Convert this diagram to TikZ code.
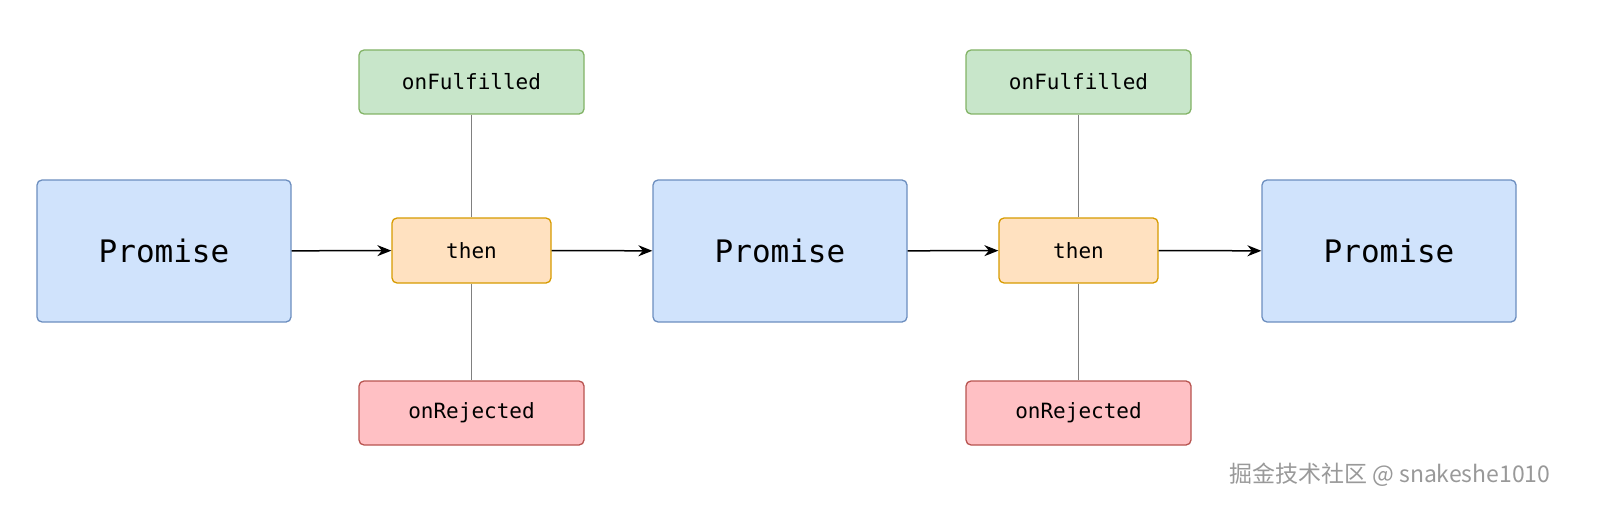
\documentclass[tikz,border=0pt]{standalone}
\usepackage{fontspec}
\setmonofont{DejaVu Sans Mono}
\newfontfamily\cjk{Noto Sans CJK SC}
\usetikzlibrary{arrows.meta}
\definecolor{bfill}{HTML}{D0E3FC}\definecolor{bdraw}{HTML}{6C8EBF}
\definecolor{ofill}{HTML}{FFE1C0}\definecolor{odraw}{HTML}{D79B00}
\definecolor{gfill}{HTML}{C8E6CA}\definecolor{gdraw}{HTML}{82B366}
\definecolor{rfill}{HTML}{FFC0C4}\definecolor{rdraw}{HTML}{B85450}
\tikzset{x=1pt,y=-1pt,
 box/.style={draw,line width=1.3pt,rounded corners=5pt,inner sep=0pt,font=\ttfamily},
 prom/.style={box,fill=bfill,draw=bdraw,minimum width=254pt,minimum height=142pt,font=\ttfamily\fontsize{31}{34}\selectfont},
 thenbox/.style={box,fill=ofill,draw=odraw,minimum width=159pt,minimum height=65pt,font=\ttfamily\fontsize{21}{24}\selectfont},
 ful/.style={box,fill=gfill,draw=gdraw,minimum width=225pt,minimum height=64pt,font=\ttfamily\fontsize{21}{24}\selectfont},
 rej/.style={box,fill=rfill,draw=rdraw,minimum width=225pt,minimum height=64pt,font=\ttfamily\fontsize{21}{24}\selectfont},
 arr/.style={-{Stealth[length=14pt,width=11pt]},line width=1.5pt},
 vline/.style={draw=gray,line width=1.3pt}}
\begin{document}
\begin{tikzpicture}
\useasboundingbox (0,0) rectangle (1602,516);
\node[prom] (p1) at (164,251) {Promise};
\node[prom] (p2) at (780,251) {Promise};
\node[prom] (p3) at (1389,251) {Promise};
\node[thenbox] (t1) at (471.5,250.5) {then};
\node[thenbox] (t2) at (1078.5,250.5) {then};
\node[ful] (f1) at (471.5,82) {onFulfilled};
\node[ful] (f2) at (1078.5,82) {onFulfilled};
\node[rej] (r1) at (471.5,413) {onRejected};
\node[rej] (r2) at (1078.5,413) {onRejected};
\draw[vline] (f1) -- (t1) -- (r1);
\draw[vline] (f2) -- (t2) -- (r2);
\draw[arr] (p1) -- (t1);
\draw[arr] (t1) -- (p2);
\draw[arr] (p2) -- (t2);
\draw[arr] (t2) -- (p3);
\node[anchor=east,text=gray!80,font=\fontsize{23}{26}\selectfont] (wm) at (1554,475) {\cjk 掘金技术社区 @ snakeshe1010};
\end{tikzpicture}
\end{document}
